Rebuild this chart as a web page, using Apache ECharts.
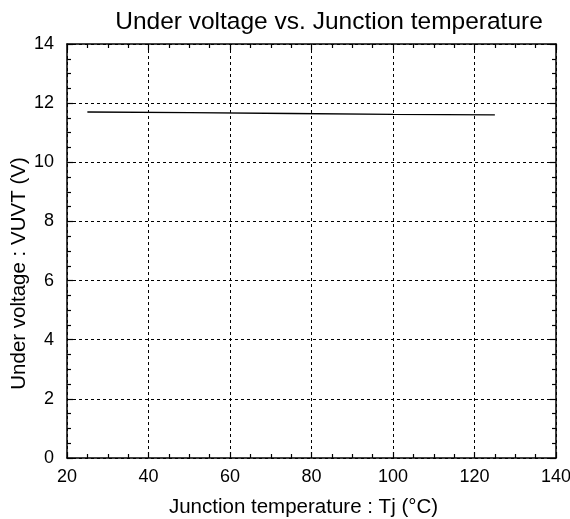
<!DOCTYPE html>
<html><head><meta charset="utf-8">
<script src="https://cdn.jsdelivr.net/npm/echarts@6/dist/echarts.min.js"></script>
<style>html,body{margin:0;padding:0;background:#fff}#c{width:570px;height:519px}</style>
</head><body><div id="c"></div>
<script>
const temps = [25, 50, 75, 100, 125];
const uvlo = [11.7, 11.68, 11.65, 11.62, 11.6];
const xTicks = [20, 40, 60, 80, 100, 120, 140];
const yTicks = [0, 2, 4, 6, 8, 10, 12, 14];

const chart = echarts.init(document.getElementById('c'));
const font = 'Liberation Sans, Arial, sans-serif';
const axisBase = {
  axisLine: {show: true, onZero: false, lineStyle: {color: '#000', width: 1.5}},
  axisTick: {show: true, inside: true, length: 6, lineStyle: {color: '#000', width: 1.2}},
  minorTick: {show: true, splitNumber: 4, length: 4, lineStyle: {color: '#000', width: 1.2}},
};
chart.setOption({
  animation: false,
  title: {text: 'Under voltage vs. Junction temperature', left: 324, top: 5, textAlign: 'center',
    textStyle: {fontFamily: font, fontSize: 24.5, fontWeight: 'normal', color: '#000'}},
  grid: {left: 67, right: 14, top: 44, bottom: 61, outerBoundsMode: 'none'},
  xAxis: [
    Object.assign({}, axisBase, {type: 'value', min: xTicks[0], max: xTicks[xTicks.length-1], interval: 20, position: 'bottom',
      name: 'Junction temperature : Tj (°C)', nameLocation: 'middle', nameGap: 39, nameMoveOverlap: false,
      nameTextStyle: {fontFamily: font, fontSize: 20.5, color: '#000', padding: [0, 16, 0, 0]},
      axisLabel: {fontFamily: font, fontSize: 18, color: '#000', margin: 10},
      splitLine: {show: true, lineStyle: {color: '#000', type: [3, 3], width: 1}}}),
    Object.assign({}, axisBase, {type: 'value', min: xTicks[0], max: xTicks[xTicks.length-1], interval: 20, position: 'top',
      axisLabel: {show: false}, splitLine: {show: false}})
  ],
  yAxis: [
    Object.assign({}, axisBase, {type: 'value', min: yTicks[0], max: yTicks[yTicks.length-1], interval: 2, position: 'left',
      name: 'Under voltage : VUVT (V)', nameLocation: 'middle', nameGap: 37, nameMoveOverlap: false,
      nameTextStyle: {fontFamily: font, fontSize: 20.5, color: '#000', padding: [0, 45, 0, 0]},
      axisLabel: {fontFamily: font, fontSize: 18, color: '#000', margin: 13},
      splitLine: {show: true, lineStyle: {color: '#000', type: [3, 3], width: 1}}}),
    Object.assign({}, axisBase, {type: 'value', min: yTicks[0], max: yTicks[yTicks.length-1], interval: 2, position: 'right',
      axisLabel: {show: false}, splitLine: {show: false}})
  ],
  series: [{
    type: 'line', data: temps.map((t, i) => [t, uvlo[i]]), showSymbol: false,
    lineStyle: {color: '#000', width: 1.3}
  }]
});
</script></body></html>
